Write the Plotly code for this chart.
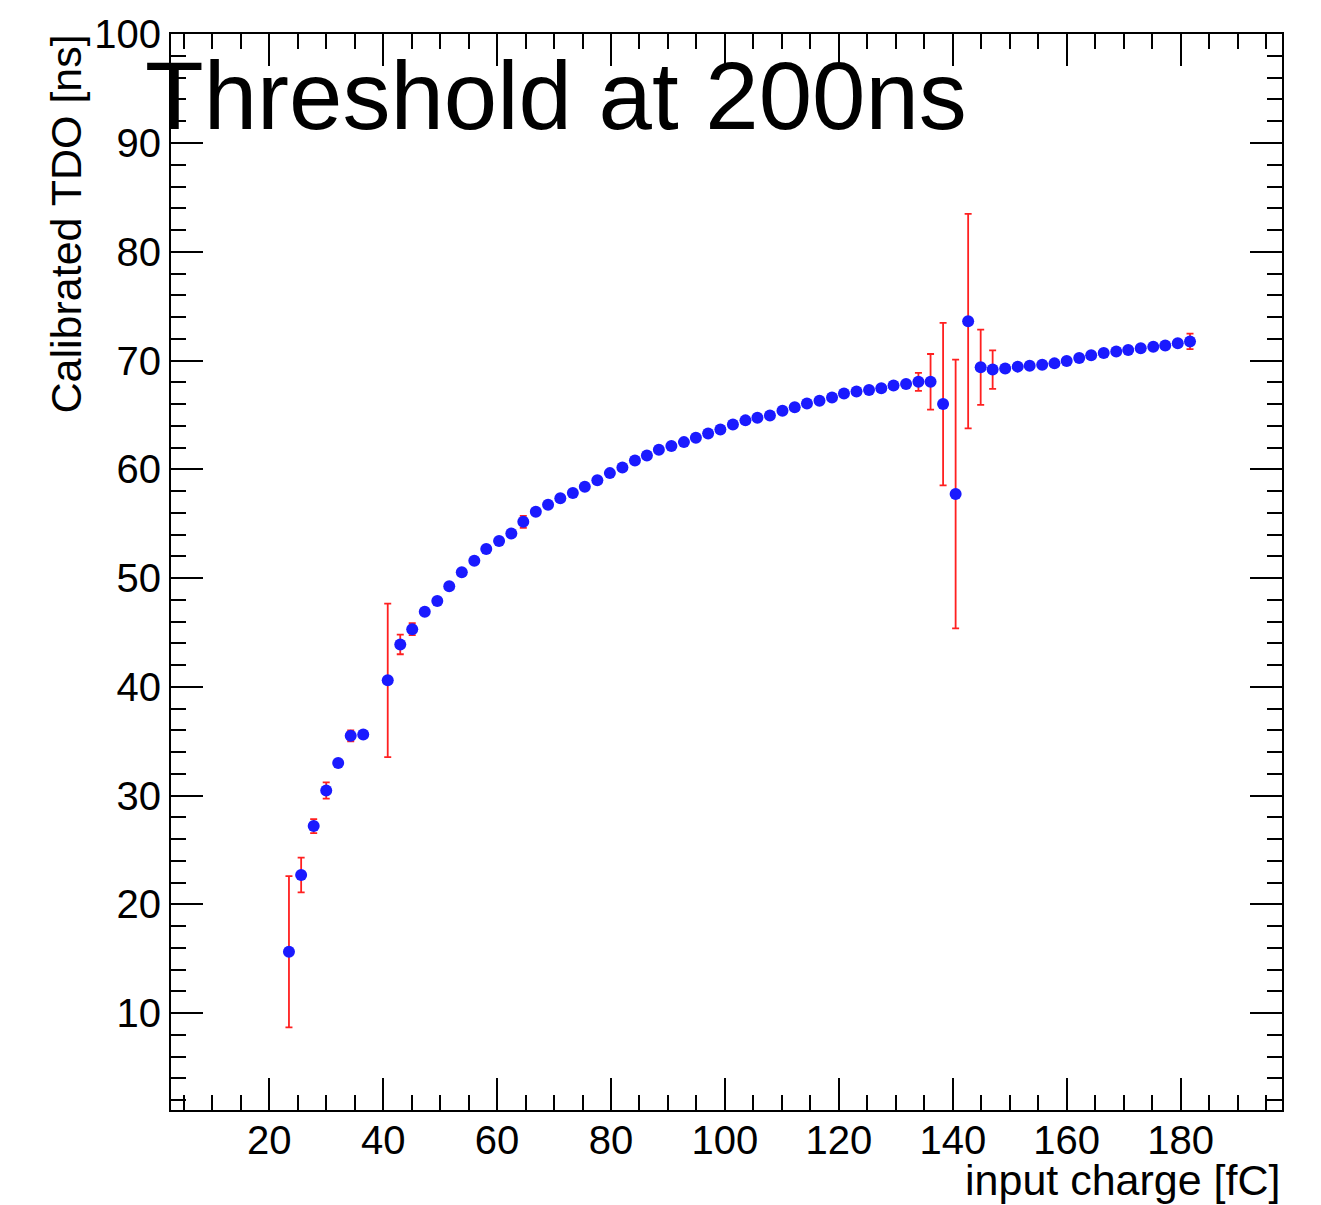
import plotly.graph_objects as go

# ---- data ----
input_charge = [23.46, 25.6, 27.8, 30.0, 32.1, 34.3, 36.5, 40.8, 43.0, 45.1, 47.3, 49.5, 51.6, 53.8,
                56.0, 58.1, 60.35, 62.5, 64.6, 66.8, 68.95, 71.1, 73.3, 75.4, 77.6, 79.8, 82.0, 84.2,
                86.3, 88.4, 90.6, 92.8, 94.9, 97.05, 99.2, 101.4, 103.6, 105.7, 107.9, 110.1, 112.25,
                114.4, 116.6, 118.8, 120.9, 123.1, 125.3, 127.45, 129.6, 131.8, 133.97, 136.1, 138.3,
                140.5, 142.7, 144.9, 147.0, 149.2, 151.4, 153.5, 155.7, 157.85, 160.0, 162.2, 164.3,
                166.5, 168.7, 170.8, 173.0, 175.2, 177.3, 179.5, 181.65]
tdo_ns = [15.65, 22.7, 27.2, 30.47, 33.0, 35.5, 35.62, 40.6, 43.9, 45.3, 46.9, 47.9, 49.25, 50.53,
          51.6, 52.67, 53.4, 54.1, 55.17, 56.1, 56.75, 57.34, 57.82, 58.4, 59.0, 59.65, 60.17, 60.8,
          61.27, 61.8, 62.15, 62.5, 62.9, 63.3, 63.67, 64.13, 64.5, 64.75, 64.95, 65.38, 65.7,
          66.05, 66.3, 66.6, 66.97, 67.15, 67.3, 67.45, 67.7, 67.85, 68.04, 68.04, 66.0,
          57.73, 73.62, 69.38, 69.17, 69.26, 69.44, 69.53, 69.62, 69.74, 69.96, 70.24, 70.48,
          70.7, 70.84, 70.97, 71.12, 71.27, 71.39, 71.6, 71.76]
tdo_err = [6.96, 1.6, 0.64, 0.75, 0.15, 0.5, 0.15, 7.05, 0.9, 0.55, 0.2, 0.2, 0.2, 0.2,
           0.2, 0.2, 0.2, 0.2, 0.55, 0.2, 0.2, 0.2, 0.2, 0.2, 0.2, 0.2, 0.2, 0.2,
           0.2, 0.2, 0.2, 0.2, 0.2, 0.2, 0.2, 0.2, 0.2, 0.2, 0.2, 0.2, 0.2,
           0.2, 0.2, 0.2, 0.2, 0.2, 0.2, 0.2, 0.2, 0.2, 0.82, 2.56, 7.47,
           12.35, 9.86, 3.46, 1.77, 0.2, 0.2, 0.2, 0.2, 0.2, 0.2, 0.2, 0.2,
           0.2, 0.2, 0.2, 0.2, 0.2, 0.2, 0.2, 0.71]

title_text = "Threshold at 200ns"
x_title = "input charge [fC]"
y_title = "Calibrated TDO [ns]"

# ---- layout geometry ----
W, H = 1321, 1205
L, R, T, B = 171, 39, 30, 95
PW, PH = W - L - R, H - T - B


def px_x(px):
    return (px - L) / PW


def px_y(py):
    return 1 - (py - T) / PH


FONT = "Liberation Sans, Arial, Helvetica, sans-serif"

fig = go.Figure()
fig.add_trace(go.Scatter(
    x=input_charge, y=tdo_ns, mode="markers",
    marker=dict(color="#1a1aff", size=12, line=dict(width=0)),
    error_y=dict(type="data", array=tdo_err, visible=True, color="#ff2020", thickness=1.8, width=3.5),
    showlegend=False,
))

axis_common = dict(
    showgrid=False, zeroline=False, showline=True, linecolor="black", linewidth=2,
    mirror="allticks", ticks="inside", tickcolor="black", tickwidth=1.5, ticklen=32,
    tickfont=dict(family=FONT, size=40, color="black"),
)

fig.update_xaxes(range=[2.75, 197.8], dtick=20, tick0=0, ticklabelstandoff=-6,
                 minor=dict(dtick=5, ticklen=15, ticks="inside", tickcolor="black", tickwidth=1.5),
                 **axis_common)
fig.update_yaxes(range=[1.1, 100.02], dtick=10, tick0=0,
                 minor=dict(dtick=2, ticklen=15, ticks="inside", tickcolor="black", tickwidth=1.5),
                 **axis_common)

fig.update_layout(
    width=W, height=H,
    margin=dict(l=L, r=R, t=T, b=B),
    paper_bgcolor="white", plot_bgcolor="white",
    font=dict(family=FONT, color="black"),
    annotations=[
        dict(text=title_text, xref="paper", yref="paper", x=px_x(143), y=px_y(92),
             xanchor="left", yanchor="middle", showarrow=False,
             font=dict(family=FONT, size=96, color="black")),
        dict(text=x_title, xref="paper", yref="paper", x=px_x(1283), y=px_y(1180),
             xanchor="right", yanchor="middle", showarrow=False,
             font=dict(family=FONT, size=43, color="black")),
        dict(text=y_title, xref="paper", yref="paper", x=px_x(66), y=px_y(29),
             xanchor="center", yanchor="top", textangle=-90, showarrow=False,
             font=dict(family=FONT, size=43, color="black")),
    ],
)

fig.write_html("out.html")
